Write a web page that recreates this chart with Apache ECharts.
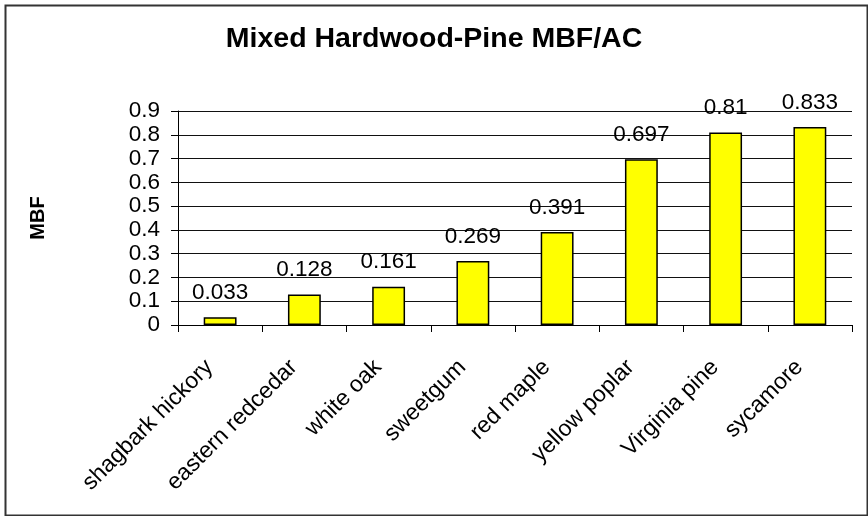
<!DOCTYPE html>
<html>
<head>
<meta charset="utf-8">
<script src="https://cdn.jsdelivr.net/npm/echarts@6/dist/echarts.min.js"></script>
<style>
  html, body { margin: 0; padding: 0; background: #fff; }
  #chart { width: 868px; height: 516px; }
</style>
</head>
<body>
<div id="chart"></div>
<script>
// Species along the x axis
const species = [
  'shagbark hickory', 'eastern redcedar', 'white oak', 'sweetgum',
  'red maple', 'yellow poplar', 'Virginia pine', 'sycamore'
];
// Volume per acre (MBF) for each species
const mbfPerAcre = [0.033, 0.128, 0.161, 0.269, 0.391, 0.697, 0.81, 0.833];
// Value axis range
const yMin = 0;
const yMax = 0.9;
const yStep = 0.1;

const FONT = '"Liberation Sans", Arial, Helvetica, sans-serif';

const chart = echarts.init(document.getElementById('chart'), null, { renderer: 'canvas' });

chart.setOption({
  animation: false,
  backgroundColor: '#ffffff',
  title: {
    text: 'Mixed Hardwood-Pine MBF/AC',
    left: 'center',
    top: 20,
    textStyle: { fontFamily: FONT, fontWeight: 'bold', fontSize: 28.5, color: '#000' }
  },
  graphic: [{
    type: 'rect',
    left: 3, top: 3,
    shape: { width: 862, height: 510 },
    style: { fill: 'none', stroke: '#333', lineWidth: 2 },
    silent: true
  }],
  grid: { left: 178, right: 16, top: 111, bottom: 191 },
  xAxis: {
    type: 'category',
    data: species,
    axisLine: { lineStyle: { color: '#000', width: 1 } },
    axisTick: { show: true, length: 7, alignWithLabel: false, lineStyle: { color: '#000' } },
    axisLabel: {
      rotate: 45,
      interval: 0,
      margin: 28,
      padding: [0, 15, 0, 0],
      fontFamily: FONT,
      fontSize: 23,
      color: '#000'
    }
  },
  yAxis: {
    type: 'value',
    min: yMin,
    max: yMax,
    interval: yStep,
    name: 'MBF',
    nameLocation: 'middle',
    nameRotate: 90,
    nameGap: 130,
    nameTextStyle: { fontFamily: FONT, fontWeight: 'bold', fontSize: 20, color: '#000' },
    axisLine: { show: true, lineStyle: { color: '#000', width: 1 } },
    axisTick: { show: true, length: 7, lineStyle: { color: '#000' } },
    axisLabel: {
      margin: 18,
      fontFamily: FONT,
      fontSize: 22.5,
      color: '#000',
      formatter: v => String(Math.round(v * 10) / 10)
    },
    splitLine: { show: true, lineStyle: { color: '#111', width: 1.2 } }
  },
  series: [{
    type: 'bar',
    data: mbfPerAcre,
    barWidth: '39%',
    itemStyle: { color: '#ffff00', borderColor: '#000', borderWidth: 1.5 },
    label: {
      show: true,
      position: 'top',
      distance: 13,
      fontFamily: FONT,
      fontSize: 22.5,
      color: '#000',
      formatter: p => String(p.value)
    }
  }]
});
</script>
</body>
</html>
